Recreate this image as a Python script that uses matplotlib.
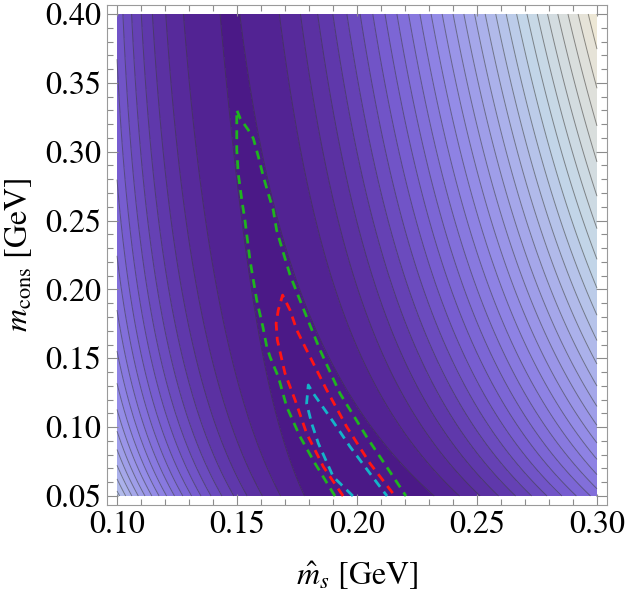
import numpy as np
import matplotlib
matplotlib.use("Agg")
import matplotlib.pyplot as plt
from matplotlib.colors import LinearSegmentedColormap
from matplotlib.ticker import MultipleLocator

plt.rcParams["font.family"] = "STIXGeneral"
plt.rcParams["mathtext.fontset"] = "stix"

# plotted ranges (GeV)
ms_range = [0.10, 0.30]
mcons_range = [0.05, 0.40]

# chi^2 surface, in units of the contour spacing
# valley centre: x_c(y) = b + a / (y + d)
valley = [0.1133, 0.01854, 0.15]
# rise along the valley: A * (1 - exp(-(y - y0) / L))
valley_rise = [0.97, 0.06, 0.08]
# right of valley: G * (sqrt(u^2 + s^2) - s), u shrinks to c_bot at the bottom
right_prof = [249.6, 0.04875, 0.82]
# left of valley: k2 * u^2 + k3 * |u|^3, u shrinks to c_bot at the bottom
left_prof = [2600.0, 10000.0, 0.72]
n_levels = 30

# dashed confidence contours
green_x = [0.1908, 0.1825, 0.1763, 0.1707, 0.1672, 0.1638, 0.1624, 0.1608, 0.1582, 0.1554,
           0.1533, 0.1520, 0.1505, 0.1499, 0.1499, 0.1513, 0.1547, 0.1568, 0.1589, 0.1610,
           0.1630, 0.1651, 0.1665, 0.1692, 0.1721, 0.1762, 0.1846, 0.1929, 0.2040, 0.2151, 0.2204]
green_y = [0.0500, 0.0737, 0.0930, 0.1148, 0.1366, 0.1509, 0.1584, 0.1727, 0.1923, 0.2214,
           0.2504, 0.2649, 0.2843, 0.3012, 0.3303, 0.3243, 0.3158, 0.3097, 0.2964, 0.2818,
           0.2698, 0.2577, 0.2431, 0.2272, 0.2105, 0.1923, 0.1560, 0.1245, 0.0930, 0.0640, 0.0500]
red_x = [0.1942, 0.1860, 0.1790, 0.1742, 0.1700, 0.1668, 0.1663, 0.1672, 0.1690,
         0.1721, 0.1749, 0.1790, 0.1874, 0.1957, 0.2054, 0.2158]
red_y = [0.0500, 0.0712, 0.0955, 0.1197, 0.1391, 0.1633, 0.1754, 0.1850, 0.1959,
         0.1850, 0.1705, 0.1560, 0.1269, 0.1003, 0.0737, 0.0500]
cyan_x = [0.1983, 0.1901, 0.1839, 0.1811, 0.1790, 0.1797,
          0.1818, 0.1846, 0.1901, 0.1971, 0.2054, 0.2125]
cyan_y = [0.0500, 0.0640, 0.0882, 0.1028, 0.1173, 0.1306,
          0.1245, 0.1175, 0.1039, 0.0858, 0.0664, 0.0500]

lake = LinearSegmentedColormap.from_list("lake", [
    (0.00, "#4b1987"), (0.15, "#5f37aa"), (0.30, "#785fd2"), (0.45, "#9187e6"),
    (0.60, "#aab0eb"), (0.75, "#c3d7e8"), (0.90, "#dcdfdc"), (1.00, "#f0e8d4")])


def chi2(x, y):
    b, a, d = valley
    xc = b + a / (y + d)
    amp, y0, ell = valley_rise
    fv = amp * (1 - np.exp(-(y - y0) / ell))
    t = (y - mcons_range[0]) / (mcons_range[1] - mcons_range[0])
    g, s, cr = right_prof
    k2, k3, cl = left_prof
    dx = x - xc
    ur = dx * (cr + (1 - cr) * t)
    ul = np.abs(dx) * (cl + (1 - cl) * t)
    right = g * (np.sqrt(ur ** 2 + s ** 2) - s)
    left = k2 * ul ** 2 + k3 * ul ** 3
    return fv + np.where(dx > 0, right, left)


xs = np.linspace(ms_range[0], ms_range[1], 500)
ys = np.linspace(mcons_range[0], mcons_range[1], 500)
X, Y = np.meshgrid(xs, ys)
Z = chi2(X, Y)

fig = plt.figure(figsize=(6.25, 5.92), dpi=100)
ax = fig.add_axes([107 / 625, 87 / 592, 500 / 625, 500 / 592])

levels = np.arange(1, n_levels + 1)
ax.contourf(X, Y, Z, levels=np.concatenate([[-5], levels]), cmap=lake,
            vmin=0, vmax=n_levels - 1, extend="max")
ax.contour(X, Y, Z, levels=levels, colors="#3a3a3a", linewidths=0.7, alpha=0.55)

dash = dict(linestyle=(0, (3.2, 2.2)), linewidth=2.0)
ax.plot(green_x, green_y, color="#1fb41f", **dash)
ax.plot(red_x, red_y, color="#ff1414", **dash)
ax.plot(cyan_x, cyan_y, color="#14b4c8", **dash)

ax.set_xlim(0.1 - 10 / 2400, 0.3 + 10 / 2400)
ax.set_ylim(0.05 - 9 / 1377, 0.40 + 9 / 1377)
ax.xaxis.set_major_locator(MultipleLocator(0.05))
ax.xaxis.set_minor_locator(MultipleLocator(0.01))
ax.yaxis.set_major_locator(MultipleLocator(0.05))
ax.yaxis.set_minor_locator(MultipleLocator(0.01))
ax.xaxis.set_major_formatter(lambda v, p: f"{v:.2f}")
ax.yaxis.set_major_formatter(lambda v, p: f"{v:.2f}")
ax.tick_params(which="both", direction="in", top=True, right=True, color="#8c8c8c",
               labelsize=23, width=0.8)
ax.tick_params(which="major", length=8, pad=4)
ax.tick_params(which="minor", length=4.5)
for sp in ax.spines.values():
    sp.set_color("#9a9a9a")
    sp.set_linewidth(0.8)

ax.set_xlabel(r"$\hat{m}_s$ [GeV]", fontsize=23, labelpad=14)
ax.set_ylabel(r"$m_{\rm cons}$ [GeV]", fontsize=23, labelpad=8)

fig.savefig("out.png", dpi=100)
